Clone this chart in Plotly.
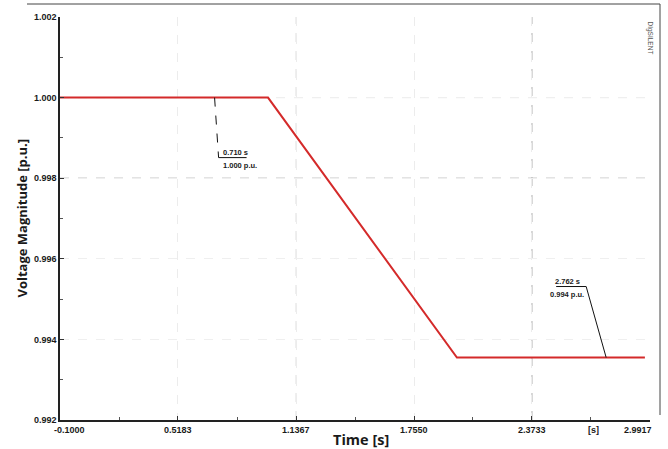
import plotly.graph_objects as go

# Voltage magnitude trace (time in s, voltage in p.u.)
time_s = [-0.1, 0.99, 1.98, 2.965]
voltage_pu = [1.000, 1.000, 0.99355, 0.99355]

# Axis ticks
x_ticks = [-0.1000, 0.5183, 1.1367, 1.7550, 2.3733, 2.9917]
x_tick_labels = ["-0.1000", "0.5183", "1.1367", "1.7550", "2.3733", "2.9917"]
y_ticks = [0.992, 0.994, 0.996, 0.998, 1.000, 1.002]
y_tick_labels = ["0.992", "0.994", "0.996", "0.998", "1.000", "1.002"]

# Cursor readouts on the curve
marker_t = [0.710, 2.762]
marker_v = [1.000, 0.99355]

W, H = 668, 449
L, R, T, B = 60, 18, 17, 29
plot_w, plot_h = W - L - R, H - T - B

INK = "#1a1a1a"
TICK_FONT = dict(family="Liberation Sans", size=9, color=INK)
LABEL_FONT = dict(family="Liberation Sans", size=7.5, color=INK)
TITLE_FONT = dict(family="Open Sans", color=INK)


def bold(s):
    return f"<b>{s}</b>"


fig = go.Figure()
fig.add_trace(go.Scatter(
    x=time_s, y=voltage_pu, mode="lines",
    line=dict(color="#d42a2a", width=2),
    hoverinfo="skip", showlegend=False,
))

fig.update_xaxes(
    range=[x_ticks[0], x_ticks[-1]],
    tickvals=x_ticks, showticklabels=False,
    ticks="inside", ticklen=4, tickcolor="#333",
    minor=dict(ticks="inside", ticklen=3, tickcolor="#555", showgrid=False,
               tickvals=[(a + b) / 2 for a, b in zip(x_ticks[:-1], x_ticks[1:])]),
    showline=True, linecolor="#222", linewidth=1.5,
    showgrid=True, gridcolor="#ececec", griddash="dash", gridwidth=1,
    zeroline=False,
)
fig.update_yaxes(
    range=[y_ticks[0], y_ticks[-1]],
    tickvals=y_ticks, ticktext=[bold(s) for s in y_tick_labels],
    tickfont=TICK_FONT,
    ticks="inside", ticklen=4, tickcolor="#333",
    minor=dict(ticks="inside", ticklen=3, tickcolor="#555", showgrid=False,
               tickvals=[(a + b) / 2 for a, b in zip(y_ticks[:-1], y_ticks[1:])]),
    showline=True, linecolor="#222", linewidth=1.5,
    showgrid=True, gridcolor="#efefef", griddash="dash", gridwidth=1,
    zeroline=False,
)

annotations = []
# x tick labels, with the end labels kept inside the axis span
for i, (v, txt) in enumerate(zip(x_ticks, x_tick_labels)):
    anchor = "left" if i == 0 else ("right" if i == len(x_ticks) - 1 else "center")
    shift = -8 if i == 0 else (4 if i == len(x_ticks) - 1 else 0)
    annotations.append(dict(
        x=v, y=0, xref="x", yref="paper", text=bold(txt),
        showarrow=False, xanchor=anchor, yanchor="top", xshift=shift, yshift=-3,
        font=TICK_FONT,
    ))
annotations.append(dict(
    x=(593 - L) / plot_w, y=0, xref="paper", yref="paper", text=bold("[s]"),
    showarrow=False, xanchor="center", yanchor="top", yshift=-3, font=TICK_FONT,
))

# Axis titles
annotations.append(dict(
    x=(361 - L) / plot_w, y=0, xref="paper", yref="paper", text=bold("Time [s]"),
    showarrow=False, xanchor="center", yanchor="top", yshift=-8,
    font=dict(TITLE_FONT, size=14.5),
))
annotations.append(dict(
    x=(21 - L) / plot_w, y=0.5, xref="paper", yref="paper",
    text=bold("Voltage Magnitude [p.u.]"), textangle=-90,
    showarrow=False, xanchor="center", yanchor="middle", yshift=0,
    font=dict(TITLE_FONT, size=13),
))

# Small vertical product mark in the corner
annotations.append(dict(
    x=(656 - L) / plot_w, y=(H - B - 19) / plot_h, xref="paper", yref="paper",
    text="DIgSILENT", textangle=90, showarrow=False,
    font=dict(family="Liberation Sans", size=6.5, color="#555"),
))

shapes = []
# Emphasised dashed grid lines
shapes.append(dict(type="line", xref="paper", yref="y", x0=0, x1=1,
                   y0=y_ticks[3], y1=y_ticks[3],
                   line=dict(color="#a4a4a4", width=1, dash="dash"), layer="below"))
shapes.append(dict(type="line", xref="paper", yref="y", x0=0, x1=1,
                   y0=y_ticks[4], y1=y_ticks[4],
                   line=dict(color="#d4d4d4", width=1, dash="dash"), layer="below"))
shapes.append(dict(type="line", xref="x", yref="paper", x0=x_ticks[4], x1=x_ticks[4],
                   y0=0, y1=1,
                   line=dict(color="#b0b0b0", width=1, dash="dash"), layer="below"))
shapes.append(dict(type="line", xref="x", yref="paper", x0=x_ticks[2], x1=x_ticks[2],
                   y0=0, y1=1,
                   line=dict(color="#dedede", width=1, dash="dash"), layer="below"))

# Cursor readouts: leader line (pixel offsets, positive = up), separator, two text rows
readouts = [
    dict(lead=(4, -60), sep=(4, 32), tx=6, anchor="left", dash="dash"),
    dict(lead=(-20, 71), sep=(-50, -20), tx=-39, anchor="center", dash="solid"),
]
for t, v, rd in zip(marker_t, marker_v, readouts):
    lx, ly = rd["lead"]
    shapes.append(dict(type="line", xref="x", yref="y", xsizemode="pixel", ysizemode="pixel",
                       xanchor=t, yanchor=v, x0=0, y0=0, x1=lx, y1=ly,
                       line=dict(color="#111", width=1, dash=rd["dash"])))
    shapes.append(dict(type="line", xref="x", yref="y", xsizemode="pixel", ysizemode="pixel",
                       xanchor=t, yanchor=v, x0=rd["sep"][0], x1=rd["sep"][1], y0=ly, y1=ly,
                       line=dict(color="#111", width=1)))
    annotations.append(dict(x=t, y=v, xref="x", yref="y", text=bold(f"{t:.3f} s"),
                            showarrow=False, xanchor=rd["anchor"], yanchor="bottom",
                            xshift=rd["tx"], yshift=ly - 1, font=LABEL_FONT))
    annotations.append(dict(x=t, y=v, xref="x", yref="y", text=bold(f"{v:.3f} p.u."),
                            showarrow=False, xanchor=rd["anchor"], yanchor="top",
                            xshift=rd["tx"], yshift=ly - 1, font=LABEL_FONT))

# Outer frame lines along the top and right edge
shapes.append(dict(type="line", xref="paper", yref="paper",
                   x0=(27 - L) / plot_w, x1=(660 - L) / plot_w,
                   y0=(H - B - 4) / plot_h, y1=(H - B - 4) / plot_h,
                   line=dict(color="#444", width=1)))
shapes.append(dict(type="line", xref="paper", yref="paper",
                   x0=(660 - L) / plot_w, x1=(660 - L) / plot_w,
                   y0=(H - B - 4) / plot_h, y1=(H - B - 415) / plot_h,
                   line=dict(color="#444", width=1)))

fig.update_layout(
    width=W, height=H,
    margin=dict(l=L, r=R, t=T, b=B),
    paper_bgcolor="white", plot_bgcolor="white",
    font=dict(family="Liberation Sans", color=INK),
    shapes=shapes, annotations=annotations,
    showlegend=False,
)

fig.write_html("out.html")
